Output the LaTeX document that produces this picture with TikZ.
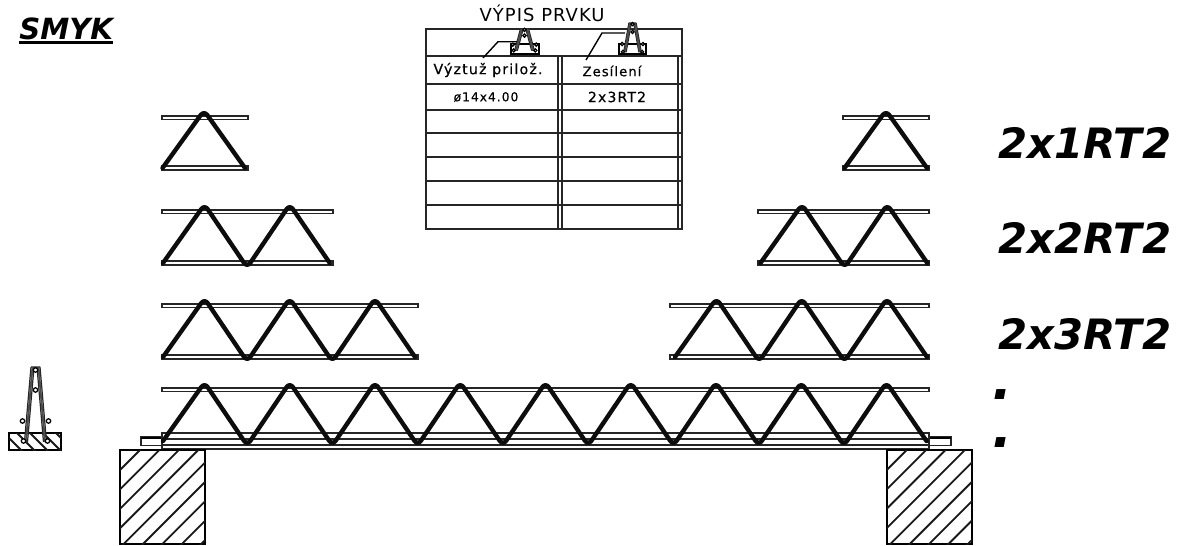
\documentclass[tikz,border=0pt]{standalone}
\usepackage{fontspec}
\setmainfont{DejaVu Sans}
\newfontfamily\bigfont[BoldFont={DejaVu Sans Bold},BoldItalicFont={DejaVu Sans Bold Oblique}]{DejaVu Sans}
\newfontfamily\cadfont[LetterSpace=8,FakeBold=0.4]{DejaVu Sans}
\newfontfamily\titlefont[LetterSpace=6]{DejaVu Sans}
\tikzset{
  thinl/.style={line width=0.8pt,draw=black!85},
  diag/.style={line width=2.5pt,line cap=round,line join=round,rounded corners=3.2pt,draw=black!95},
  hatchl/.style={line width=1.05pt,draw=black!90},
  bigtxt/.style={font=\bigfont\fontsize{23.8}{26}\selectfont\bfseries\itshape,anchor=west,inner sep=0pt},
  dottxt/.style={font=\bigfont\fontsize{30}{30}\selectfont\bfseries\itshape,anchor=west,inner sep=0pt},
}
% top bar, bottom bar; #1 left x, #2 right x, #3 top bar y, #4 bottom y
\newcommand{\barsof}[4]{%
  \draw[thinl,fill=white] (#1,#3) rectangle (#2,#3+3.5);
  \draw[thinl,fill=white] (#1,#4-4) rectangle (#2,#4);
}
% zigzag: #1 first apex x, #2 number of spans after it, #3 top bar y, #4 bottom y
\newcommand{\ztruss}[4]{%
  \pgfmathsetmacro{\apy}{#3-5.5}\pgfmathsetmacro{\vay}{#4+2.5}%
  \draw[diag] ({#1-41.5},{#4-2}) -- (#1,\apy)
    \foreach \k in {1,...,#2} { -- ({#1+85.25*\k-42.6},\vay) -- ({#1+85.25*\k},\apy) }
    -- ({#1+85.25*#2+40},{#4-2});
}
% one-apex zigzag
\newcommand{\ztrussone}[3]{%
  \pgfmathsetmacro{\apy}{#2-5.5}%
  \draw[diag] ({#1-41.5},{#3-2}) -- (#1,\apy) -- ({#1+41},{#3-2});
}
% cross-section: #1 centre x, #2 apex y, #3 yscale, #4 xscale, #5 radius
\newcommand{\secfig}[5]{%
  \begin{scope}[shift={(#1,#2)}]
    \draw[line width=0.7pt,draw=black!85] (-4.5*#4,0) -- (-11*#4,75*#3) (-1.5*#4,0) -- (-8*#4,75*#3)
      (4.5*#4,0) -- (11*#4,75*#3) (1.5*#4,0) -- (8*#4,75*#3) (-4.5*#4,0) -- (4.5*#4,0);
    \draw[line width=1.1pt,draw=black!70] (-3*#4,0) -- (-9.5*#4,75*#3) (3*#4,0) -- (9.5*#4,75*#3);
    \draw[line width=0.7pt,fill=white] (0,3*#3) circle[radius=#5] (0,23*#3) circle[radius=#5]
      (-13*#4,54*#3) circle[radius=#5] (13*#4,54*#3) circle[radius=#5]
      (-12*#4,74*#3) circle[radius=#5] (12*#4,74*#3) circle[radius=#5];
  \end{scope}}
\begin{document}
\begin{tikzpicture}[x=0.02cm,y=-0.02cm]
\useasboundingbox (0,0) rectangle (1179,545);
% heading
\node[font=\bigfont\fontsize{16.6}{18}\selectfont\bfseries\itshape,anchor=west,inner sep=0pt] (smyk) at (19,29) {SMYK};
\draw[line width=1.2pt] (19,42.5) -- (113,42.5);
% table
\node[font=\titlefont\fontsize{10.2}{12}\selectfont,inner sep=0pt] (title) at (542,13) {VÝPIS PRVKU};
\draw[thinl] (426,29) rectangle (682,229);
\foreach \yy in {56,84,110,133,157,181,205}
  \draw[thinl] (426,\yy) -- (682,\yy);
\foreach \xx in {558,562,678}
  \draw[thinl] (\xx,56) -- (\xx,229);
\node[font=\cadfont\fontsize{8.1}{10}\selectfont,inner sep=0pt] (vyztuz) at (488,70) {Výztuž prilož.};
\node[font=\cadfont\fontsize{7.5}{10}\selectfont,inner sep=0pt] (zes) at (612,71) {Zesílení};
\node[font=\cadfont\fontsize{7}{10}\selectfont,inner sep=0pt] (phi) at (486,97) {ø14x4.00};
\node[font=\cadfont\fontsize{8}{10}\selectfont,inner sep=0pt] (rt) at (617,97) {2x3RT2};
% small sections in table
\draw[line width=0.8pt,fill=white] (511,44) rectangle (539,54);
\draw[line width=0.8pt,fill=white] (619,44) rectangle (646,54);
\secfig{524.5}{29}{0.29}{0.9}{1.6}
\secfig{632.5}{23}{0.39}{0.8}{1.6}
\draw[line width=0.8pt] (483,58) -- (498,41.7) -- (517,41.7);
\draw[line width=0.8pt] (586,60) -- (602,33) -- (625,33);
% row labels
\node[bigtxt] (l1) at (998,143) {2x1RT2};
\node[bigtxt] (l2) at (998,238) {2x2RT2};
\node[bigtxt] (l3) at (998,334) {2x3RT2};
\node[dottxt] (d1) at (992,395) {.};
\node[dottxt] (d2) at (992,443) {.};
% left trusses
\barsof{162}{248}{116}{170}
\ztrussone{204}{116}{170}
\barsof{162}{333}{210}{265}
\ztruss{204.5}{1}{210}{265}
\barsof{162}{418}{304}{359}
\ztruss{204.5}{2}{304}{359}
% right trusses
\barsof{843}{929}{116}{170}
\ztrussone{886}{116}{170}
\barsof{758}{929}{210}{265}
\ztruss{802}{1}{210}{265}
\barsof{670}{929}{304}{359}
\ztruss{716.5}{2}{304}{359}
% long beam
\draw[thinl,fill=white] (162,388) rectangle (929,391.5);
\draw[thinl] (162,433) rectangle (929,449);
\draw[thinl] (162,439) -- (929,439) (162,445) -- (929,445);
\draw[thinl] (141,437) rectangle (162,445.5);
\draw[thinl] (929,437) rectangle (951,445.5);
\draw[line width=1.3pt] (141,438) -- (162,438) (929,438) -- (951,438);
\draw[thinl] (162,433) -- (162,450) (929,433) -- (929,450);
\ztruss{204.5}{8}{388}{443}
% supports
\draw[line width=0.9pt] (120,450) rectangle (205,544);
\begin{scope}
  \clip (120,450) rectangle (205,544);
  \foreach \s in {0,...,8} \draw[hatchl] ({590+19.4*\s-300},300) -- ({590+19.4*\s-600},600);
\end{scope}
\draw[line width=0.9pt] (887,450) rectangle (972,544);
\begin{scope}
  \clip (887,450) rectangle (972,544);
  \foreach \s in {0,...,8} \draw[hatchl] ({1356.7+19.4*\s-300},300) -- ({1356.7+19.4*\s-600},600);
\end{scope}
% left cross-section
\draw[line width=0.9pt,fill=white] (9,433) rectangle (61,450);
\begin{scope}
  \clip (9,433) rectangle (61,450);
  \foreach \s in {0,...,6} \draw[hatchl] ({-12+13*\s},430) -- ({-12+13*\s+24},454);
\end{scope}
\secfig{35.5}{367}{1}{1}{2.2}
\end{tikzpicture}
\end{document}
